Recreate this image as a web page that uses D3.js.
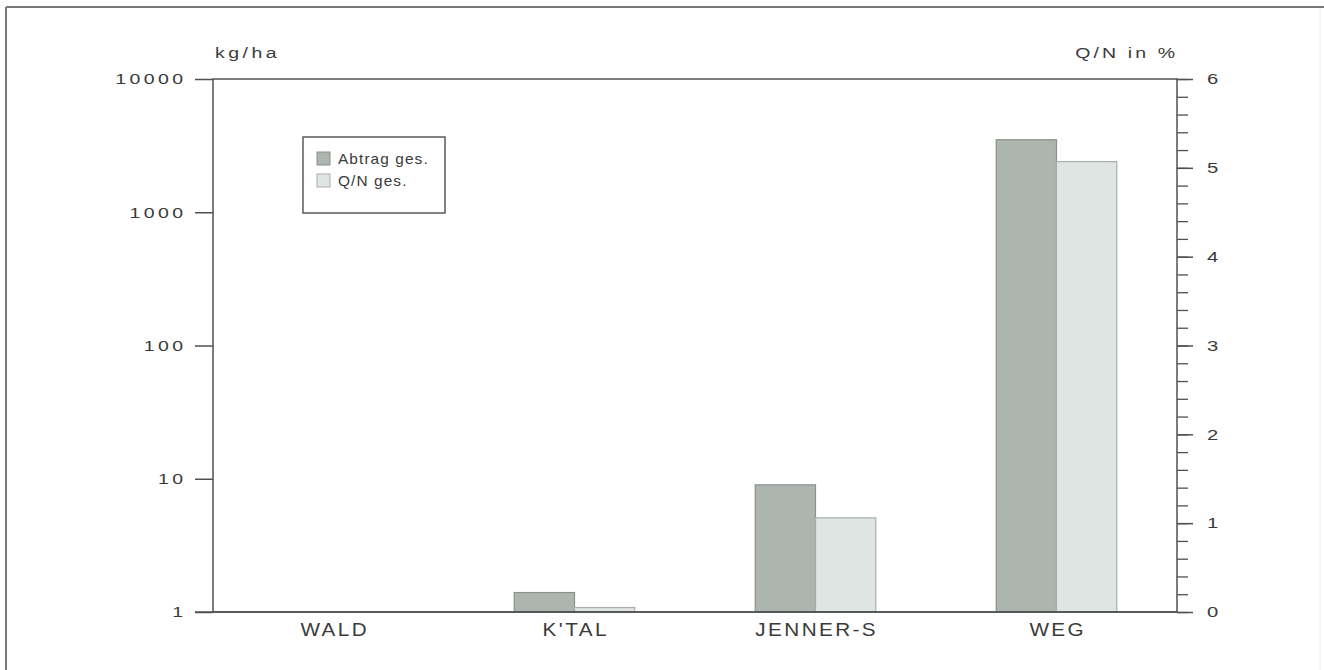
<!DOCTYPE html>
<html>
<head>
<meta charset="utf-8">
<script src="https://cdn.jsdelivr.net/npm/d3@7/dist/d3.min.js"></script>
<style>
  html, body { margin: 0; padding: 0; background: #fff; }
  svg { display: block; }
  text { font-family: "Liberation Sans", Arial, Helvetica, sans-serif; fill: #3a3a3a; }
</style>
</head>
<body>
<script>
// ---- data ----
const categories = ["WALD", "K'TAL", "JENNER-S", "WEG"];
const abtragGes = [null, 1.4, 9, 3500];      // kg/ha (log scale, left axis)
const qnGes = [0, 0.05, 1.06, 5.07];          // Q/N in % (right axis)
const leftTicks = [1, 10, 100, 1000, 10000];
const rightTicks = [0, 1, 2, 3, 4, 5, 6];
const rightMinorTicks = [0, 0.2, 0.4, 0.6, 0.8, 1, 1.2, 1.4, 1.6, 1.8, 2, 2.2, 2.4, 2.6, 2.8,
  3, 3.2, 3.4, 3.6, 3.8, 4, 4.2, 4.4, 4.6, 4.8, 5, 5.2, 5.4, 5.6, 5.8, 6];
const seriesNames = ["Abtrag ges.", "Q/N ges."];
const leftTitle = "kg/ha";
const rightTitle = "Q/N in %";

// ---- layout ----
const W = 1324, H = 670;
const plot = { left: 213, right: 1177, top: 79, bottom: 612 };
const colDark = "#adb5af", colDarkStroke = "#8a908b";
const colLight = "#dfe5e2", colLightStroke = "#a9aeab";
const axisCol = "#505050";

// horizontally stretch + space text (the original uses an extended sans font)
function stretch(sel, sx, ls) {
  ls = ls || 0;
  sel.each(function () {
    const t = d3.select(this);
    let x = parseFloat(t.attr("x")) || 0;
    const anchor = t.attr("text-anchor") || (this.parentNode && d3.select(this.parentNode.parentNode).attr("text-anchor")) || "start";
    if (anchor === "end") x += ls * sx;
    else if (anchor === "middle") x += ls * sx / 2;
    t.attr("x", x / sx).attr("transform", `scale(${sx},1)`).attr("letter-spacing", ls);
  });
}

const svg = d3.select("body").append("svg").attr("width", W).attr("height", H);

// outer frame (top + left borders)
svg.append("line").attr("x1", 6).attr("x2", W).attr("y1", 7).attr("y2", 7)
  .attr("stroke", "#7a7a7a").attr("stroke-width", 2);
svg.append("line").attr("x1", 6).attr("x2", 6).attr("y1", 7).attr("y2", H)
  .attr("stroke", "#7a7a7a").attr("stroke-width", 2);
svg.append("line").attr("x1", 1320).attr("x2", 1320).attr("y1", 8).attr("y2", H)
  .attr("stroke", "#eeeeee").attr("stroke-width", 1);

// scales
const yLog = d3.scaleLog().domain([1, 10000]).range([plot.bottom, plot.top]);
const yLin = d3.scaleLinear().domain([0, 6]).range([plot.bottom, plot.top]);
const x0 = d3.scaleBand().domain(categories).range([plot.left, plot.right])
  .paddingInner(0.5).paddingOuter(0.25);
const x1 = d3.scaleBand().domain(seriesNames).range([0, x0.bandwidth()]).padding(0);

// bars
const gBars = svg.append("g");
categories.forEach((c, i) => {
  const a = abtragGes[i];
  if (a != null && a > 1) {
    gBars.append("rect")
      .attr("x", x0(c) + x1(seriesNames[0]))
      .attr("y", yLog(a))
      .attr("width", x1.bandwidth())
      .attr("height", yLog(1) - yLog(a))
      .attr("fill", colDark).attr("stroke", colDarkStroke).attr("stroke-width", 1.2);
  }
  const q = qnGes[i];
  if (q != null && q > 0) {
    gBars.append("rect")
      .attr("x", x0(c) + x1(seriesNames[1]))
      .attr("y", yLin(q))
      .attr("width", x1.bandwidth())
      .attr("height", yLin(0) - yLin(q))
      .attr("fill", colLight).attr("stroke", colLightStroke).attr("stroke-width", 1.2);
  }
});

// plot frame
svg.append("rect")
  .attr("x", plot.left).attr("y", plot.top)
  .attr("width", plot.right - plot.left).attr("height", plot.bottom - plot.top)
  .attr("fill", "none").attr("stroke", axisCol).attr("stroke-width", 1.5);

// left axis
const gL = svg.append("g").attr("transform", `translate(${plot.left},0)`)
  .call(d3.axisLeft(yLog).tickValues(leftTicks).tickFormat(d3.format("d"))
    .tickSize(18).tickPadding(12));
gL.select(".domain").remove();
gL.selectAll(".tick line").attr("stroke", axisCol).attr("stroke-width", 1.5);
gL.selectAll(".tick text").attr("font-size", 15).attr("fill", "#3a3a3a")
  .style("font-family", '"Liberation Sans", Arial, sans-serif');
stretch(gL.selectAll(".tick text"), 1.3, 2.6);

// right axis minor ticks
const gRm = svg.append("g").attr("transform", `translate(${plot.right},0)`)
  .call(d3.axisRight(yLin).tickValues(rightMinorTicks).tickFormat("").tickSize(11));
gRm.select(".domain").remove();
gRm.selectAll(".tick line").attr("stroke", axisCol).attr("stroke-width", 1.3);

// right axis major ticks
const gR = svg.append("g").attr("transform", `translate(${plot.right},0)`)
  .call(d3.axisRight(yLin).tickValues(rightTicks).tickFormat(d3.format("d"))
    .tickSize(16).tickPadding(14));
gR.select(".domain").remove();
gR.selectAll(".tick line").attr("stroke", axisCol).attr("stroke-width", 1.5);
gR.selectAll(".tick text").attr("font-size", 15).attr("fill", "#3a3a3a")
  .style("font-family", '"Liberation Sans", Arial, sans-serif');
stretch(gR.selectAll(".tick text"), 1.35, 0);

// bottom axis (category labels)
const gB = svg.append("g").attr("transform", `translate(0,${plot.bottom})`)
  .call(d3.axisBottom(x0).tickSize(0).tickPadding(11));
gB.select(".domain").remove();
gB.selectAll(".tick text").attr("font-size", 18).attr("fill", "#3a3a3a")
  .style("font-family", '"Liberation Sans", Arial, sans-serif');
stretch(gB.selectAll(".tick text"), 1.15, 2.1);
// extend baseline to left tick
svg.append("line").attr("x1", plot.left - 18).attr("x2", plot.right)
  .attr("y1", plot.bottom).attr("y2", plot.bottom)
  .attr("stroke", axisCol).attr("stroke-width", 1.5);

// axis titles
const tL = svg.append("text").attr("x", 215).attr("y", 58).attr("font-size", 15).text(leftTitle);
stretch(tL, 1.3, 2.7);
const tR = svg.append("text").attr("x", 1175).attr("y", 58).attr("font-size", 15)
  .attr("text-anchor", "end").text(rightTitle);
stretch(tR, 1.3, 2.4);

// legend
const lg = svg.append("g");
lg.append("rect").attr("x", 303).attr("y", 137).attr("width", 142).attr("height", 76)
  .attr("fill", "#fff").attr("stroke", "#5a5a5a").attr("stroke-width", 1.5);
const legItems = [
  { name: seriesNames[0], fill: colDark, stroke: colDarkStroke },
  { name: seriesNames[1], fill: colLight, stroke: colLightStroke }
];
legItems.forEach((d, i) => {
  const y = 152 + i * 22;
  lg.append("rect").attr("x", 317).attr("y", y).attr("width", 13).attr("height", 13)
    .attr("fill", d.fill).attr("stroke", d.stroke).attr("stroke-width", 1);
  const t = lg.append("text").attr("x", 338).attr("y", y + 12).attr("font-size", 14).text(d.name);
  stretch(t, 1.1, 1);
});
</script>
</body>
</html>
